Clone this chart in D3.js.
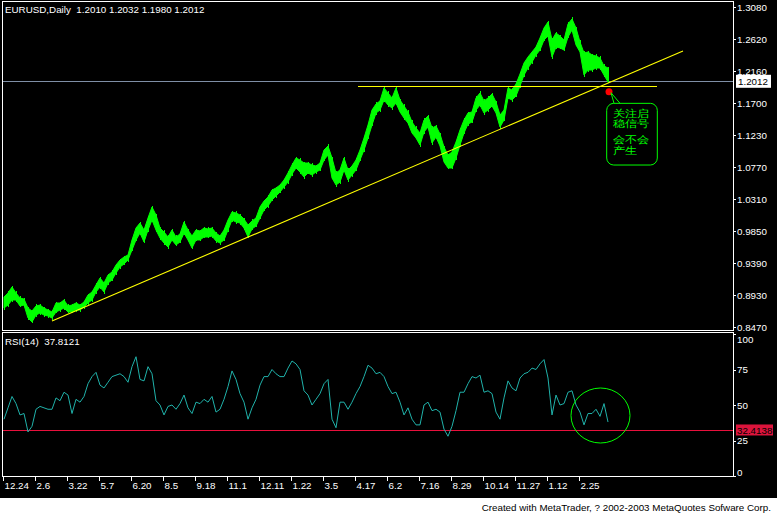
<!DOCTYPE html>
<html><head><meta charset="utf-8">
<script src="https://cdn.jsdelivr.net/npm/d3@7"></script>
<style>
html,body{margin:0;padding:0;background:#fff;}
svg{display:block;}
text{font-family:"Liberation Sans",Arial,sans-serif;white-space:pre;}
</style></head>
<body>
<svg id="c" width="777" height="515"></svg>
<script>
// ---- data ----
const titleText = "EURUSD,Daily  1.2010 1.2032 1.1980 1.2012";
const rsiTitle = "RSI(14)  37.8121";
const footerText = "Created with MetaTrader, ? 2002-2003 MetaQuotes Sofware Corp.";
const dateLabels = ["12.24","2.6","3.22","5.7","6.20","8.5","9.18","11.1","12.11","1.22","3.5","4.17","6.2","7.16","8.29","10.14","11.27","1.12","2.25"];
const priceTickValues = [1.308,1.262,1.216,1.170,1.124,1.078,1.032,0.986,0.940,0.894,0.848];
const priceTickLabels = ["1.3080","1.2620","1.2160","1.1700","1.1230","1.0770","1.0310","0.9850","0.9390","0.8930","0.8470"];
const rsiTickValues = [100,75,50,25,0];
// one entry per 4 trading days (high/low of the daily bars)
const highs = [0.8911,0.8969,0.9055,0.8969,0.8897,0.8882,0.8753,0.8710,0.8782,0.8796,0.8753,0.8724,0.8696,0.8825,0.8825,0.8868,0.8782,0.8796,0.8825,0.8796,
0.8839,0.8940,0.8983,0.9084,0.9184,0.9112,0.9227,0.9271,0.9371,0.9443,0.9486,0.9515,0.9731,0.9903,0.9975,0.9874,1.0047,1.0205,1.0090,0.9903,
0.9846,0.9774,0.9874,0.9774,0.9817,0.9989,0.9874,0.9788,0.9874,0.9860,0.9903,0.9889,0.9903,0.9831,0.9788,0.9874,1.0018,1.0133,1.0119,1.0090,
1.0032,0.9946,1.0004,1.0047,1.0205,1.0291,1.0349,1.0449,1.0478,1.0521,1.0593,1.0694,1.0809,1.0909,1.0881,1.0837,1.0837,1.0809,1.0794,1.0837,
1.1024,1.1082,1.0909,1.0694,1.0737,1.0909,1.0737,1.0794,1.0881,1.1024,1.1197,1.1384,1.1599,1.1686,1.1729,1.1916,1.1844,1.1772,1.1916,1.1743,
1.1657,1.1571,1.1427,1.1341,1.1269,1.1456,1.1513,1.1341,1.1369,1.1254,1.1067,1.0952,1.0996,1.1139,1.1312,1.1456,1.1556,1.1571,1.1772,1.1844,
1.1729,1.1772,1.1829,1.1714,1.1527,1.1599,1.1916,1.1887,1.1973,1.2117,1.2275,1.2361,1.2433,1.2505,1.2634,1.2778,1.2864,1.2606,1.2706,1.2663,
1.2606,1.2836,1.2908,1.2778,1.2577,1.2419,1.2433,1.2390,1.2376,1.2347,1.2232,1.2203];
const lows = [0.8753,0.8796,0.8868,0.8868,0.8782,0.8796,0.8609,0.8552,0.8652,0.8681,0.8652,0.8638,0.8609,0.8696,0.8724,0.8753,0.8696,0.8696,0.8724,0.8724,
0.8767,0.8825,0.8868,0.8983,0.9055,0.8983,0.9112,0.9156,0.9256,0.9342,0.9386,0.9443,0.9587,0.9731,0.9831,0.9702,0.9874,1.0018,0.9874,0.9759,
0.9687,0.9630,0.9731,0.9659,0.9702,0.9831,0.9731,0.9616,0.9731,0.9731,0.9774,0.9774,0.9788,0.9716,0.9687,0.9731,0.9874,1.0018,0.9989,0.9975,
0.9903,0.9774,0.9889,0.9932,1.0047,1.0162,1.0219,1.0306,1.0363,1.0421,1.0492,1.0564,1.0679,1.0766,1.0708,1.0636,1.0694,1.0665,1.0708,1.0737,
1.0881,1.0952,1.0622,1.0521,1.0564,1.0737,1.0593,1.0665,1.0737,1.0881,1.1024,1.1197,1.1384,1.1556,1.1599,1.1743,1.1671,1.1628,1.1700,1.1571,
1.1484,1.1412,1.1269,1.1197,1.1096,1.1283,1.1355,1.1125,1.1211,1.1082,1.0852,1.0766,1.0766,1.0909,1.1096,1.1269,1.1398,1.1427,1.1599,1.1671,
1.1556,1.1599,1.1657,1.1556,1.1355,1.1456,1.1772,1.1743,1.1801,1.1944,1.2102,1.2203,1.2289,1.2390,1.2462,1.2606,1.2663,1.2361,1.2505,1.2491,
1.2462,1.2649,1.2749,1.2534,1.2433,1.2102,1.2174,1.2174,1.2203,1.2203,1.2102,1.2002];
const rsiValues = [40,48,56,51,43,44,31,35,47,49,48,47,47,55,53,59,57,44,54,52,
56,65,70,73,64,62,66,70,71,72,70,66,77,84,68,67,77,72,53,50,
43,49,50,47,51,57,48,44,52,51,54,52,56,45,47,54,63,74,68,58,
52,40,48,54,64,70,70,75,72,70,70,76,81,79,75,60,57,50,54,58,
65,68,40,34,52,52,47,52,58,63,70,78,76,72,73,70,63,58,59,52,
43,48,40,36,36,50,52,46,47,45,33,28,35,46,59,59,65,70,69,71,
59,60,58,45,40,55,67,62,60,69,72,73,76,75,79,82,69,43,57,50,
51,59,60,50,45,36,44,44,47,42,51,38];
const lastPrice = 1.2012;
const rsiLevel = 32.4138;
const resistancePrice = 1.1944;           // horizontal yellow line
const resistanceDays = [355, 654];
const trendStart = {day: 49, price: 0.8566};
const trendEnd = {day: 680, price: 1.2448};
const marker = {day: 606, price: 1.1862};
const rsiCircle = {day: 597.5, value: 42.6};
const noteLines = ["关注启","稳信号","会不会","产生"];

// ---- layout ----
const svg = d3.select("#c");
const L = 3, R = 733, mainTop = 1.5, mainBot = 330.5, rsiTop = 332.5, rsiBot = 476.5;
const x = d3.scaleLinear().domain([0, 730]).range([L, R]);
const y = d3.scaleLinear().domain([0.848, 1.308]).range([327, 7]);
const yr = d3.scaleLinear().domain([0, 100]).range([476, 334]);
const dayOf = i => 1 + 4 * i;
const AX_FONT = "Liberation Sans, Arial, sans-serif";

svg.append("rect").attr("width", 777).attr("height", 498).attr("fill", "#000");

// frames
const frame = svg.append("g").attr("stroke", "#fff").attr("fill", "none").attr("shape-rendering", "crispEdges");
frame.append("rect").attr("x", L - 0.5).attr("y", mainTop).attr("width", R - L + 0.5).attr("height", mainBot - mainTop);
frame.append("rect").attr("x", L - 0.5).attr("y", rsiTop).attr("width", R - L + 0.5).attr("height", rsiBot - rsiTop);

// titles
svg.append("text").attr("x", 5).attr("y", 13).attr("fill", "#fff").attr("font-size", 9.8).text(titleText);
svg.append("text").attr("x", 5).attr("y", 345).attr("fill", "#fff").attr("font-size", 9.8).text(rsiTitle);

// price axis
const pAxis = d3.axisRight(y).tickValues(priceTickValues).tickFormat((d, i) => priceTickLabels[i]).tickSize(3).tickPadding(1);
const pg = svg.append("g").attr("transform", `translate(${R},0)`).call(pAxis);
pg.select(".domain").remove();
pg.selectAll("line").attr("stroke", "#fff").attr("shape-rendering", "crispEdges");
pg.selectAll("text").attr("fill", "#fff").attr("font-size", 9.8).attr("font-family", AX_FONT);

// rsi axis
const rAxis = d3.axisRight(yr).tickValues(rsiTickValues).tickFormat(d3.format("d")).tickSize(3).tickPadding(1);
const rg = svg.append("g").attr("transform", `translate(${R},0)`).call(rAxis);
rg.select(".domain").remove();
rg.selectAll("line").attr("stroke", "#fff").attr("shape-rendering", "crispEdges");
rg.selectAll("text").attr("fill", "#fff").attr("font-size", 9.8).attr("font-family", AX_FONT)
  .attr("dy", d => d === 100 ? "0.9em" : (d === 0 ? "-0.05em" : "0.32em"));

// date axis
const dAxis = d3.axisBottom(x).tickValues(dateLabels.map((d, i) => i * 32)).tickFormat((d, i) => dateLabels[i]).tickSize(4).tickPadding(2);
const dg = svg.append("g").attr("transform", `translate(0,${rsiBot})`).call(dAxis);
dg.select(".domain").remove();
dg.selectAll("line").attr("stroke", "#fff").attr("shape-rendering", "crispEdges");
dg.selectAll("text").attr("fill", "#fff").attr("font-size", 9.8).attr("text-anchor", "start").attr("dx", 1)
  .attr("font-family", AX_FONT);

// last-price line and label
svg.append("line").attr("x1", L).attr("x2", R).attr("y1", Math.round(y(lastPrice)) + 0.5).attr("y2", Math.round(y(lastPrice)) + 0.5)
  .attr("stroke", "#7f8fa6").attr("shape-rendering", "crispEdges");
svg.append("rect").attr("x", R + 3).attr("y", y(lastPrice) - 6.5).attr("width", 35).attr("height", 13).attr("fill", "#fff");
svg.append("text").attr("x", R + 5).attr("y", y(lastPrice) + 4).attr("font-size", 9.8).attr("fill", "#000").text(lastPrice.toFixed(4));

// price bars (high/low band)
const bars = highs.map((h, i) => ({day: dayOf(i), hi: h, lo: lows[i]}));
const band = d3.area().x(d => x(d.day)).y0(d => y(d.lo)).y1(d => y(d.hi)).curve(d3.curveLinear);
svg.append("path").datum(bars).attr("d", band).attr("fill", "#00ff00").attr("stroke", "#00ff00").attr("stroke-width", 1);
svg.append("g").selectAll("line").data(bars).join("line")
  .attr("x1", d => Math.round(x(d.day)) + 0.5).attr("x2", d => Math.round(x(d.day)) + 0.5)
  .attr("y1", d => y(d.hi) - 1.5).attr("y2", d => y(d.lo) + 1.5)
  .attr("stroke", "#00ff00").attr("shape-rendering", "crispEdges");

// yellow lines
svg.append("line").attr("x1", x(resistanceDays[0])).attr("x2", x(resistanceDays[1]))
  .attr("y1", Math.round(y(resistancePrice)) + 0.5).attr("y2", Math.round(y(resistancePrice)) + 0.5)
  .attr("stroke", "#ffff00").attr("shape-rendering", "crispEdges");
svg.append("line").attr("x1", x(trendStart.day)).attr("y1", y(trendStart.price)).attr("x2", x(trendEnd.day)).attr("y2", y(trendEnd.price))
  .attr("stroke", "#ffff00").attr("stroke-width", 1.1);

// marker + callout
const mx = x(marker.day), my = y(marker.price);
svg.append("circle").attr("cx", mx).attr("cy", my).attr("r", 3.5).attr("fill", "#ff0000");
const cg = svg.append("g").attr("fill", "none").attr("stroke", "#00ff00");
cg.append("path").attr("d", `M${mx + 5},${my + 11.6} L${mx + 2},${my + 1} L${mx + 11},${my + 11.6}`);
cg.append("rect").attr("x", mx - 2.3).attr("y", my + 11.6).attr("width", 50.6).attr("height", 61.7).attr("rx", 7);
const noteOffsets = [25, 35.5, 51.5, 62];   // baselines below the marker
noteLines.forEach((t, i) => {
  svg.append("text").attr("x", mx + 4).attr("y", my + noteOffsets[i]).attr("fill", "#00ff00")
    .attr("font-family", "Noto Sans CJK SC").attr("font-size", 10).attr("textLength", t.length * 12.2)
    .attr("lengthAdjust", "spacingAndGlyphs").text(t);
});

// RSI
svg.append("line").attr("x1", L).attr("x2", R).attr("y1", Math.round(yr(rsiLevel)) + 0.5).attr("y2", Math.round(yr(rsiLevel)) + 0.5)
  .attr("stroke", "#e8103c").attr("shape-rendering", "crispEdges");
svg.append("rect").attr("x", R + 3).attr("y", yr(rsiLevel) - 5.5).attr("width", 37).attr("height", 11).attr("fill", "#dc143c");
svg.append("text").attr("x", R + 4).attr("y", yr(rsiLevel) + 4).attr("font-size", 9.8).attr("fill", "#000").text(rsiLevel.toFixed(4));
const rline = d3.line().x((d, i) => x(dayOf(i))).y(d => yr(d));
svg.append("path").datum(rsiValues).attr("d", rline).attr("fill", "none").attr("stroke", "#20b2aa").attr("stroke-width", 1);
svg.append("ellipse").attr("cx", x(rsiCircle.day)).attr("cy", yr(rsiCircle.value)).attr("rx", 29.5).attr("ry", 27.5)
  .attr("fill", "none").attr("stroke", "#00ff00");

// footer
svg.append("text").attr("x", 771).attr("y", 511).attr("text-anchor", "end").attr("font-size", 9.8).attr("fill", "#000").text(footerText);
</script>
</body></html>
